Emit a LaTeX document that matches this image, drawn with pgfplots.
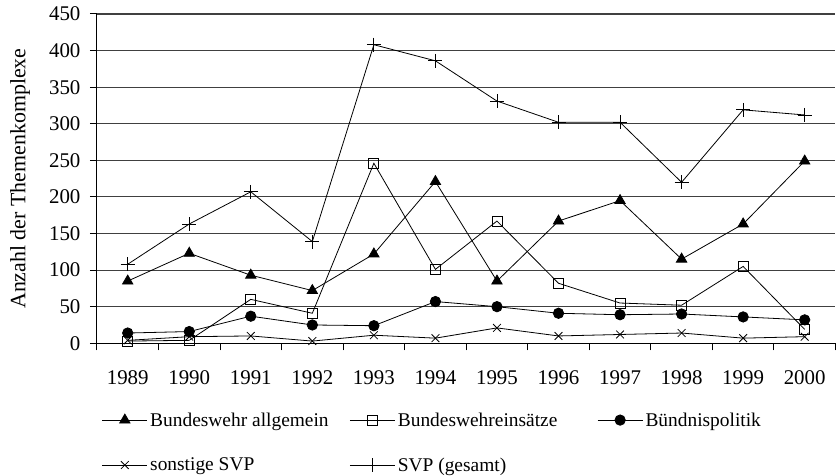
\documentclass[border=0pt]{standalone}
\usepackage{fontspec}
\setmainfont{Liberation Serif}
\usepackage{pgfplots}
\pgfplotsset{compat=1.18}
\begin{document}
\begin{tikzpicture}
\begin{axis}[name=ax,
  scale only axis, width=739bp, height=329.5bp,
  xmin=-0.5, xmax=11.5, ymin=0, ymax=450,
  axis x line*=bottom, axis y line*=left,
  axis line style={black, line width=1bp},
  xtick={0,1,2,3,4,5,6,7,8,9,10,11},
  xticklabels={1989,1990,1991,1992,1993,1994,1995,1996,1997,1998,1999,2000},
  minor xtick={-0.5,0.5,...,11.5},
  major x tick style={draw=none},
  minor x tick style={draw=black, line width=1bp},
  minor tick length=7bp,
  ytick={0,50,...,450},
  tick align=outside, major tick length=7bp,
  tick style={black, line width=1bp},
  ymajorgrids, grid style={black!75, line width=1.1bp},
  ticklabel style={font=\fontsize{21}{22}\selectfont},
  xticklabel style={yshift=-17bp},
  yticklabel style={xshift=-6bp},
  /pgf/number format/assume math mode=true,
  ylabel={Anzahl der Themenkomplexe},
  ylabel style={font=\fontsize{22}{24}\selectfont, at={(axis description cs:-0.104,0.5)}, anchor=center},
  legend columns=3,
  legend cell align=left,
  legend style={draw=none, fill=none, inner sep=0pt, outer sep=0pt,
    font=\fontsize{19.5}{22}\selectfont, column sep=0pt, row sep=25bp,
    nodes={inner sep=2.5bp},
    at={(axis description cs:0.0068,-0.203)}, anchor=north west},
  legend image code/.code={\draw[mark repeat=2,mark phase=2] plot coordinates {(0bp,0bp) (22.5bp,0bp) (45bp,0bp)};},
  every axis plot/.append style={black, line width=0.8bp},
]
\addplot[mark=triangle*, mark size=6bp, mark options={solid, fill=black}] coordinates {
(0,85) (1,123) (2,93) (3,72) (4,122) (5,221) (6,85) (7,167) (8,195) (9,115) (10,163) (11,249)};
\addlegendentry{\makebox[197bp][l]{Bundeswehr allgemein}}
\addplot[mark=square, mark size=5bp, mark options={solid, fill=white}] coordinates {
(0,3) (1,4) (2,60) (3,41) (4,246) (5,101) (6,167) (7,82) (8,55) (9,52) (10,105) (11,19)};
\addlegendentry{\makebox[197bp][l]{Bundeswehreinsätze}}
\addplot[mark=*, mark size=5.2bp, mark options={solid, fill=black}] coordinates {
(0,14) (1,16) (2,37) (3,25) (4,24) (5,57) (6,50) (7,41) (8,39) (9,40) (10,36) (11,32)};
\addlegendentry{Bündnispolitik}
\addplot[mark=x, mark size=5.5bp, mark options={solid}] coordinates {
(0,4) (1,9) (2,10) (3,3) (4,11) (5,7) (6,21) (7,10) (8,12) (9,14) (10,7) (11,9)};
\addlegendentry{\makebox[197bp][l]{sonstige SVP}}
\addplot[mark=+, mark size=7bp, mark options={solid}] coordinates {
(0,108) (1,163) (2,207) (3,139) (4,408) (5,386) (6,331) (7,302) (8,302) (9,220) (10,319) (11,312)};
\addlegendentry{SVP (gesamt)}
\end{axis}
\path ([shift={(-97bp,-130.5bp)}]ax.south west) rectangle ([shift={(0bp,14bp)}]ax.north east);
\end{tikzpicture}
\end{document}
